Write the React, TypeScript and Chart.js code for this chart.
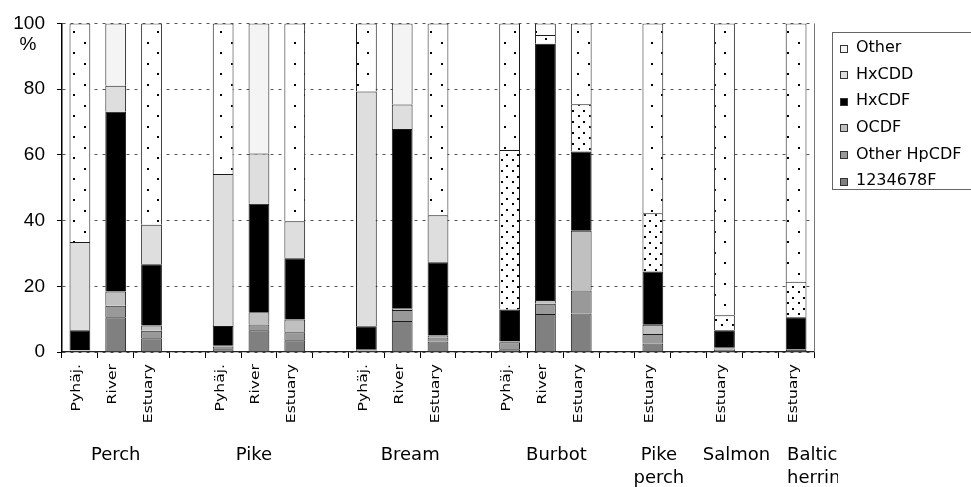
import React, { useEffect, useRef } from 'react';
import { Chart, registerables } from 'chart.js';

Chart.register(...registerables);

// ---------- data ----------
const categories = [
  'Pyhäj.', 'River', 'Estuary', '',
  'Pyhäj.', 'River', 'Estuary', '',
  'Pyhäj.', 'River', 'Estuary', '',
  'Pyhäj.', 'River', 'Estuary', '',
  'Estuary', '',
  'Estuary', '',
  'Estuary',
];

const groupNames = ['Perch', 'Pike', 'Bream', 'Burbot', 'Pike\nperch', 'Salmon', 'Baltic\nherring'];
const groupCenterIndex = [1, 5, 9, 13, 16, 18, 20];

const s1234678F = [0.3, 10.6, 4.2, null, 0.8, 6.6, 3.6, null, 0.4, 9.4, 3.2, null, 0.8, 11.6, 11.7, null, 2.6, null, 0.7, null, 0.6];
const sOtherHpCDF = [0.1, 3.5, 2.3, null, 0.9, 1.8, 2.4, null, 0.4, 3.4, 1.2, null, 2.2, 3.1, 7.0, null, 2.9, null, 0.4, null, 0.2];
const sOCDF = [0.1, 4.3, 1.6, null, 0.2, 3.7, 3.9, null, 0.1, 0.5, 0.6, null, 0.2, 1.1, 18.2, null, 2.8, null, 0.2, null, 0.1];
const sHxCDF = [6.1, 54.7, 18.6, null, 6.0, 33.0, 18.6, null, 6.9, 54.6, 22.3, null, 9.7, 78.0, 24.1, null, 16.2, null, 5.3, null, 9.7];
const sHxCDD = [26.9, 7.9, 12.0, null, 46.3, 15.3, 11.3, null, 71.5, 7.4, 14.3, null, 48.6, 2.7, 14.4, null, 17.7, null, 4.6, null, 10.8];
const sOther = [66.5, 19.0, 61.3, null, 45.8, 39.6, 60.2, null, 20.7, 24.7, 58.4, null, 38.5, 3.5, 24.6, null, 57.8, null, 88.8, null, 78.6];

const yTicks = [0, 20, 40, 60, 80, 100];

// which segments are drawn with a dot fill instead of flat grey
const otherDotted = [true, false, true, false, true, false, true, false, true, false, true, false, true, true, true, false, true, false, true, false, true];
const hxcddDotted = [false, false, false, false, false, false, false, false, false, false, false, false, true, true, true, false, true, false, true, false, true];

const colors = {
  other: '#f4f4f4',
  hxcdd: '#dedede',
  hxcdf: '#000000',
  ocdf: '#c0c0c0',
  otherHp: '#999999',
  f1234678: '#808080',
};

function makePattern(w: number, h: number, dots: [number, number][]) {
  const c = document.createElement('canvas');
  c.width = w;
  c.height = h;
  const g = c.getContext('2d')!;
  g.fillStyle = '#ffffff';
  g.fillRect(0, 0, w, h);
  g.fillStyle = '#000000';
  dots.forEach(([x, y]) => g.fillRect(x, y, 2, 2));
  return g.createPattern(c, 'repeat') as CanvasPattern;
}

export default function App() {
  const ref = useRef<HTMLCanvasElement | null>(null);

  useEffect(() => {
    if (!ref.current) return;
    const sparse = makePattern(21, 21, [[0, 0], [10, 10]]);
    const dense = makePattern(11, 11, [[0, 0], [6, 5]]);

    const otherBg = otherDotted.map((d) => (d ? sparse : colors.other));
    const hxcddBg = hxcddDotted.map((d) => (d ? dense : colors.hxcdd));

    const mk = (label: string, data: (number | null)[], bg: any) => ({
      label,
      data,
      backgroundColor: bg,
      borderColor: '#1a1a1a',
      borderWidth: { top: 1, left: 1, right: 1, bottom: 0 },
      borderSkipped: false as const,
      barPercentage: 0.58,
      categoryPercentage: 1,
    });

    const legendItems = [
      ['Other', colors.other],
      ['HxCDD', colors.hxcdd],
      ['HxCDF', colors.hxcdf],
      ['OCDF', colors.ocdf],
      ['Other HpCDF', colors.otherHp],
      ['1234678F', colors.f1234678],
    ];

    const decor = {
      id: 'decor',
      afterDraw(chart: any) {
        const ctx = chart.ctx as CanvasRenderingContext2D;
        const xs = chart.scales.x;
        const ca = chart.chartArea;
        ctx.save();
        // right border of plot
        ctx.strokeStyle = '#777';
        ctx.lineWidth = 1;
        ctx.beginPath();
        ctx.moveTo(Math.round(ca.right) + 0.5, ca.top);
        ctx.lineTo(Math.round(ca.right) + 0.5, ca.bottom);
        ctx.stroke();

        // % sign
        ctx.fillStyle = '#000';
        ctx.font = '19px "Liberation Sans", Arial, sans-serif';
        ctx.textAlign = 'center';
        ctx.textBaseline = 'middle';
        ctx.fillText('%', 28, 45);

        // rotated category labels
        ctx.font = '12px "DejaVu Sans", sans-serif';
        categories.forEach((lab, i) => {
          if (!lab) return;
          const x = xs.getPixelForValue(i);
          ctx.save();
          ctx.translate(x + 0.5, ca.bottom + 12);
          ctx.rotate(-Math.PI / 2);
          ctx.scale(1.3, 1);
          ctx.textAlign = 'right';
          ctx.textBaseline = 'alphabetic';
          ctx.fillText(lab, 0, 0);
          ctx.restore();
        });

        // group labels
        ctx.font = '18px "DejaVu Sans", sans-serif';
        ctx.textBaseline = 'alphabetic';
        const nudges = [0, -5, 8, 11, 6, 12, 0];
        groupNames.forEach((name, gi) => {
          const cx = xs.getPixelForValue(groupCenterIndex[gi]);
          const lines = name.split('\n');
          const last = gi === groupNames.length - 1;
          ctx.save();
          if (last) {
            ctx.beginPath();
            ctx.rect(0, 0, 838, chart.height);
            ctx.clip();
            ctx.textAlign = 'left';
          } else {
            ctx.textAlign = 'center';
          }
          lines.forEach((ln, li) => {
            const x = last ? cx - 9 : cx + nudges[gi];
            ctx.fillText(ln, x, ca.bottom + 108 + li * 23);
          });
          ctx.restore();
        });

        // legend
        const lx = 832.5, ly = 32.5;
        ctx.strokeStyle = '#666';
        ctx.lineWidth = 1;
        ctx.strokeRect(lx, ly, 160, 157);
        ctx.font = '16px "DejaVu Sans", sans-serif';
        ctx.textAlign = 'left';
        ctx.textBaseline = 'middle';
        legendItems.forEach(([name, col], k) => {
          const cy = 48 + k * 26.6;
          ctx.fillStyle = col;
          ctx.fillRect(840.5, Math.round(cy - 3.5) + 0.5, 7, 7);
          ctx.strokeStyle = '#333';
          ctx.strokeRect(840.5, Math.round(cy - 3.5) + 0.5, 7, 7);
          ctx.fillStyle = '#000';
          ctx.fillText(name, 856, cy);
        });
        ctx.restore();
      },
    };

    const chart = new Chart(ref.current, {
      type: 'bar',
      data: {
        labels: categories,
        datasets: [
          mk('1234678F', s1234678F, colors.f1234678),
          mk('Other HpCDF', sOtherHpCDF, colors.otherHp),
          mk('OCDF', sOCDF, colors.ocdf),
          mk('HxCDF', sHxCDF, colors.hxcdf),
          mk('HxCDD', sHxCDD, hxcddBg),
          mk('Other', sOther, otherBg),
        ],
      },
      options: {
        animation: false,
        responsive: false,
        maintainAspectRatio: false,
        layout: { padding: { left: 0, top: 22, right: 157, bottom: 135 } },
        plugins: { legend: { display: false }, tooltip: { enabled: false } },
        scales: {
          x: {
            stacked: true,
            ticks: { display: false },
            grid: {
              display: true,
              drawOnChartArea: false,
              drawTicks: true,
              tickLength: 6,
              tickColor: '#000',
              offset: true,
            },
            border: { display: true, color: '#222', width: 1.2 },
            afterFit: (s: any) => {
              s.height = 0;
            },
          },
          y: {
            stacked: true,
            min: 0,
            max: 100,
            afterBuildTicks: (s: any) => {
              s.ticks = yTicks.map((v) => ({ value: v }));
            },
            ticks: {
              padding: 12,
              color: '#000',
              font: { family: '"Liberation Sans", Arial, sans-serif', size: 19 },
            },
            grid: {
              color: '#555',
              lineWidth: 1,
              drawTicks: true,
              tickLength: 5,
              tickColor: '#000',
              tickBorderDash: [],
            },
            border: { display: true, color: '#000', width: 1.5, dash: [3, 5] },
            afterFit: (s: any) => {
              s.width = 62;
            },
          },
        },
      },
      plugins: [decor],
    });
    return () => chart.destroy();
  }, []);

  return (
    <div style={{ position: 'absolute', left: 0, top: 0, width: 971, height: 487, background: '#fff' }}>
      <canvas ref={ref} width={971} height={487} style={{ display: 'block' }} />
    </div>
  );
}
